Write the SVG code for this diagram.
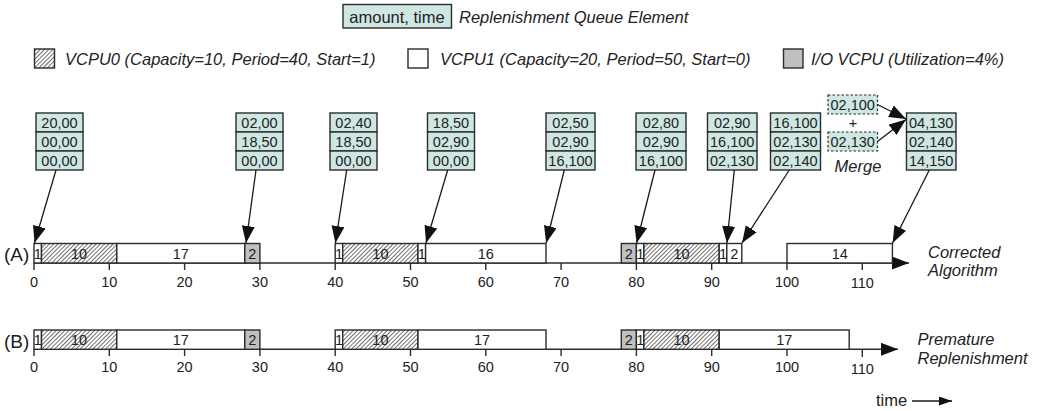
<svg xmlns="http://www.w3.org/2000/svg" width="1039" height="411" viewBox="0 0 1039 411">
  <style>
    text { font-family: "Liberation Sans", Arial, sans-serif; fill: #222; }
    .it { font-style: italic; font-size: 16.5px; }
    .leg { font-size: 16.5px; }
    .cell { fill: #cfe7e3; stroke: #2b2b2b; stroke-width: 1.4; }
    .dcell { fill: #cfe7e3; stroke: #2b2b2b; stroke-width: 1.2; stroke-dasharray: 2.5 2; }
    .ct { font-size: 14.5px; text-anchor: middle; }
    .blk { stroke: #2b2b2b; stroke-width: 1.4; }
    .w { fill: #ffffff; }
    .g { fill: #c0c0c0; }
    .h { fill: url(#hatch); }
    .bt { font-size: 14.5px; text-anchor: middle; }
    .tick { stroke: #2b2b2b; stroke-width: 1.4; }
    .tl { font-size: 14.5px; text-anchor: middle; }
    .axis { stroke: #2b2b2b; stroke-width: 1.4; fill: none; }
    .conn { stroke: #1a1a1a; stroke-width: 1.3; fill: none; }
    .lab { font-size: 19px; }
  </style>
  <defs>
    <pattern id="hatch" patternUnits="userSpaceOnUse" width="3" height="3" patternTransform="rotate(45)">
      <rect width="3" height="3" fill="#ffffff"/>
      <line x1="0" y1="0" x2="0" y2="3" stroke="#222" stroke-width="1.3"/>
    </pattern>
    <marker id="arr" markerUnits="userSpaceOnUse" markerWidth="18" markerHeight="14" refX="17" refY="6.5" orient="auto">
      <path d="M0,0 L17,6.5 L0,13 z" fill="#111"/>
    </marker>
    <marker id="arr-s" markerUnits="userSpaceOnUse" markerWidth="14" markerHeight="10" refX="13" refY="4.5" orient="auto">
      <path d="M0,0 L13,4.5 L0,9 z" fill="#111"/>
    </marker>
  </defs>

  <!-- legend -->
  <g id="legend">
    <rect class="cell" x="343" y="4.5" width="108.5" height="23.5"/>
    <text class="leg" x="397" y="22.5" text-anchor="middle">amount, time</text>
    <text class="it" x="459" y="22.5">Replenishment Queue Element</text>

    <rect class="blk h" x="34.5" y="49" width="20" height="19"/>
    <text class="it" x="65" y="65">VCPU0 (Capacity=10, Period=40, Start=1)</text>
    <rect class="blk w" x="408" y="49" width="20" height="19"/>
    <text class="it" x="440" y="65">VCPU1 (Capacity=20, Period=50, Start=0)</text>
    <rect class="blk g" x="783.5" y="49" width="19.5" height="19"/>
    <text class="it" x="811" y="65">I/O VCPU (Utilization=4%)</text>
  </g>

  <!-- replenishment queues -->
  <g id="q1">
    <rect class="cell" x="36" y="113" width="47" height="19"/><rect class="cell" x="36" y="132" width="47" height="19"/><rect class="cell" x="36" y="151" width="47" height="19"/>
    <text class="ct" x="59.5" y="128">20,00</text><text class="ct" x="59.5" y="147">00,00</text><text class="ct" x="59.5" y="166">00,00</text>
  </g>
  <g id="q2">
    <rect class="cell" x="236" y="113" width="47" height="19"/><rect class="cell" x="236" y="132" width="47" height="19"/><rect class="cell" x="236" y="151" width="47" height="19"/>
    <text class="ct" x="259.5" y="128">02,00</text><text class="ct" x="259.5" y="147">18,50</text><text class="ct" x="259.5" y="166">00,00</text>
  </g>
  <g id="q3">
    <rect class="cell" x="330" y="113" width="47" height="19"/><rect class="cell" x="330" y="132" width="47" height="19"/><rect class="cell" x="330" y="151" width="47" height="19"/>
    <text class="ct" x="353.5" y="128">02,40</text><text class="ct" x="353.5" y="147">18,50</text><text class="ct" x="353.5" y="166">00,00</text>
  </g>
  <g id="q4">
    <rect class="cell" x="427.5" y="113" width="47" height="19"/><rect class="cell" x="427.5" y="132" width="47" height="19"/><rect class="cell" x="427.5" y="151" width="47" height="19"/>
    <text class="ct" x="451" y="128">18,50</text><text class="ct" x="451" y="147">02,90</text><text class="ct" x="451" y="166">00,00</text>
  </g>
  <g id="q5">
    <rect class="cell" x="546" y="113" width="49" height="19"/><rect class="cell" x="546" y="132" width="49" height="19"/><rect class="cell" x="546" y="151" width="49" height="19"/>
    <text class="ct" x="570.5" y="128">02,50</text><text class="ct" x="570.5" y="147">02,90</text><text class="ct" x="570.5" y="166">16,100</text>
  </g>
  <g id="q6">
    <rect class="cell" x="636" y="113" width="50" height="19"/><rect class="cell" x="636" y="132" width="50" height="19"/><rect class="cell" x="636" y="151" width="50" height="19"/>
    <text class="ct" x="661" y="128">02,80</text><text class="ct" x="661" y="147">02,90</text><text class="ct" x="661" y="166">16,100</text>
  </g>
  <g id="q7">
    <rect class="cell" x="707.5" y="113" width="49.5" height="19"/><rect class="cell" x="707.5" y="132" width="49.5" height="19"/><rect class="cell" x="707.5" y="151" width="49.5" height="19"/>
    <text class="ct" x="732.2" y="128">02,90</text><text class="ct" x="732.2" y="147">16,100</text><text class="ct" x="732.2" y="166">02,130</text>
  </g>
  <g id="q8">
    <rect class="cell" x="770.5" y="113" width="50" height="19"/><rect class="cell" x="770.5" y="132" width="50" height="19"/><rect class="cell" x="770.5" y="151" width="50" height="19"/>
    <text class="ct" x="795.5" y="128">16,100</text><text class="ct" x="795.5" y="147">02,130</text><text class="ct" x="795.5" y="166">02,140</text>
  </g>
  <g id="merge">
    <rect class="dcell" x="828" y="95" width="49.5" height="19"/>
    <text class="ct" x="852.7" y="110">02,100</text>
    <text class="ct" x="853" y="128">+</text>
    <rect class="dcell" x="828" y="132" width="49.5" height="19"/>
    <text class="ct" x="852.7" y="147">02,130</text>
    <text class="it" x="858" y="172" text-anchor="middle">Merge</text>
  </g>
  <g id="q9">
    <rect class="cell" x="906.5" y="113" width="49.5" height="19"/><rect class="cell" x="906.5" y="132" width="49.5" height="19"/><rect class="cell" x="906.5" y="151" width="49.5" height="19"/>
    <text class="ct" x="931.2" y="128">04,130</text><text class="ct" x="931.2" y="147">02,140</text><text class="ct" x="931.2" y="166">14,150</text>
  </g>

  <!-- timeline A: corrected algorithm -->
  <g id="timelineA">
    <text class="lab" x="4" y="261">(A)</text>
    <path class="axis" d="M34,263 H909" marker-end="url(#arr)"/>
    <g class="tick">
      <line x1="34" y1="263" x2="34" y2="270"/><line x1="109.3" y1="263" x2="109.3" y2="270"/><line x1="184.6" y1="263" x2="184.6" y2="270"/><line x1="259.9" y1="263" x2="259.9" y2="270"/><line x1="335.2" y1="263" x2="335.2" y2="270"/><line x1="410.5" y1="263" x2="410.5" y2="270"/><line x1="485.8" y1="263" x2="485.8" y2="270"/><line x1="561.1" y1="263" x2="561.1" y2="270"/><line x1="636.4" y1="263" x2="636.4" y2="270"/><line x1="711.7" y1="263" x2="711.7" y2="270"/><line x1="787" y1="263" x2="787" y2="270"/><line x1="862.3" y1="263" x2="862.3" y2="270"/>
    </g>
    <g>
      <text class="tl" x="34" y="287">0</text><text class="tl" x="109.3" y="287">10</text><text class="tl" x="184.6" y="287">20</text><text class="tl" x="259.9" y="287">30</text><text class="tl" x="335.2" y="287">40</text><text class="tl" x="410.5" y="287">50</text><text class="tl" x="485.8" y="287">60</text><text class="tl" x="561.1" y="287">70</text><text class="tl" x="636.4" y="287">80</text><text class="tl" x="711.7" y="287">90</text><text class="tl" x="787" y="287">100</text><text class="tl" x="862.3" y="288">110</text>
    </g>
    <g id="a-blocks">
      <rect class="blk w" x="34" y="243.5" width="7.5" height="19.5"/><text class="bt" x="37.8" y="258.5">1</text>
      <rect class="blk h" x="41.5" y="243.5" width="75.3" height="19.5"/><text class="bt" x="79" y="258.5">10</text>
      <rect class="blk w" x="116.8" y="243.5" width="128" height="19.5"/><text class="bt" x="180.8" y="258.5">17</text>
      <rect class="blk g" x="244.8" y="243.5" width="15.1" height="19.5"/><text class="bt" x="252.4" y="258.5">2</text>

      <rect class="blk w" x="335.2" y="243.5" width="7.5" height="19.5"/><text class="bt" x="339" y="258.5">1</text>
      <rect class="blk h" x="342.7" y="243.5" width="75.3" height="19.5"/><text class="bt" x="380.4" y="258.5">10</text>
      <rect class="blk w" x="418" y="243.5" width="7.6" height="19.5"/><text class="bt" x="421.8" y="258.5">1</text>
      <rect class="blk w" x="425.6" y="243.5" width="120.4" height="19.5"/><text class="bt" x="485.8" y="258.5">16</text>

      <rect class="blk g" x="621.3" y="243.5" width="15.1" height="19.5"/><text class="bt" x="628.9" y="258.5">2</text>
      <rect class="blk w" x="636.4" y="243.5" width="7.5" height="19.5"/><text class="bt" x="640.2" y="258.5">1</text>
      <rect class="blk h" x="643.9" y="243.5" width="75.3" height="19.5"/><text class="bt" x="681.6" y="258.5">10</text>
      <rect class="blk w" x="719.2" y="243.5" width="7.6" height="19.5"/><text class="bt" x="723" y="258.5">1</text>
      <rect class="blk w" x="726.8" y="243.5" width="15" height="19.5"/><text class="bt" x="734.3" y="258.5">2</text>

      <rect class="blk w" x="787" y="243.5" width="105.4" height="19.5"/><text class="bt" x="839.7" y="258.5">14</text>
    </g>
    <text class="it" x="928" y="258">Corrected</text>
    <text class="it" x="928" y="276">Algorithm</text>
  </g>

  <!-- timeline B: premature replenishment -->
  <g id="timelineB">
    <text class="lab" x="4" y="348">(B)</text>
    <path class="axis" d="M34,349.3 H898" marker-end="url(#arr)"/>
    <g class="tick">
      <line x1="34" y1="349.3" x2="34" y2="356"/><line x1="109.3" y1="349.3" x2="109.3" y2="356"/><line x1="184.6" y1="349.3" x2="184.6" y2="356"/><line x1="259.9" y1="349.3" x2="259.9" y2="356"/><line x1="335.2" y1="349.3" x2="335.2" y2="356"/><line x1="410.5" y1="349.3" x2="410.5" y2="356"/><line x1="485.8" y1="349.3" x2="485.8" y2="356"/><line x1="561.1" y1="349.3" x2="561.1" y2="356"/><line x1="636.4" y1="349.3" x2="636.4" y2="356"/><line x1="711.7" y1="349.3" x2="711.7" y2="356"/><line x1="787" y1="349.3" x2="787" y2="356"/><line x1="862.3" y1="349.3" x2="862.3" y2="357"/>
    </g>
    <g>
      <text class="tl" x="34" y="372">0</text><text class="tl" x="109.3" y="372">10</text><text class="tl" x="184.6" y="372">20</text><text class="tl" x="259.9" y="372">30</text><text class="tl" x="335.2" y="372">40</text><text class="tl" x="410.5" y="372">50</text><text class="tl" x="485.8" y="372">60</text><text class="tl" x="561.1" y="372">70</text><text class="tl" x="636.4" y="372">80</text><text class="tl" x="711.7" y="372">90</text><text class="tl" x="787" y="372">100</text><text class="tl" x="862.3" y="373.5">110</text>
    </g>
    <g id="b-blocks">
      <rect class="blk w" x="34" y="330" width="7.5" height="19.3"/><text class="bt" x="37.8" y="345">1</text>
      <rect class="blk h" x="41.5" y="330" width="75.3" height="19.3"/><text class="bt" x="79" y="345">10</text>
      <rect class="blk w" x="116.8" y="330" width="128" height="19.3"/><text class="bt" x="180.8" y="345">17</text>
      <rect class="blk g" x="244.8" y="330" width="15.1" height="19.3"/><text class="bt" x="252.4" y="345">2</text>

      <rect class="blk w" x="335.2" y="330" width="7.5" height="19.3"/><text class="bt" x="339" y="345">1</text>
      <rect class="blk h" x="342.7" y="330" width="75.3" height="19.3"/><text class="bt" x="380.4" y="345">10</text>
      <rect class="blk w" x="418" y="330" width="128" height="19.3"/><text class="bt" x="482" y="345">17</text>

      <rect class="blk g" x="621.3" y="330" width="15.1" height="19.3"/><text class="bt" x="628.9" y="345">2</text>
      <rect class="blk w" x="636.4" y="330" width="7.5" height="19.3"/><text class="bt" x="640.2" y="345">1</text>
      <rect class="blk h" x="643.9" y="330" width="75.3" height="19.3"/><text class="bt" x="681.6" y="345">10</text>
      <rect class="blk w" x="719.2" y="330" width="130" height="19.3"/><text class="bt" x="784.2" y="345">17</text>
    </g>
    <text class="it" x="917.5" y="345">Premature</text>
    <text class="it" x="917.5" y="363.5">Replenishment</text>
  </g>

  <!-- time direction -->
  <g id="time-label">
    <text x="876" y="406" font-size="16.5">time</text>
    <path class="conn" d="M912,401 H952" marker-end="url(#arr-s)"/>
  </g>

  <!-- queue-to-timeline pointers -->
  <g id="connectors">
    <path class="conn" d="M56,170 L34.5,243" marker-end="url(#arr)"/>
    <path class="conn" d="M256,170 L246,243" marker-end="url(#arr)"/>
    <path class="conn" d="M346.7,170 L335.4,243" marker-end="url(#arr)"/>
    <path class="conn" d="M447.7,170 L426,243" marker-end="url(#arr)"/>
    <path class="conn" d="M564.3,170 L546.2,243" marker-end="url(#arr)"/>
    <path class="conn" d="M655,170 L636.6,243" marker-end="url(#arr)"/>
    <path class="conn" d="M734.3,170 L726.9,243" marker-end="url(#arr)"/>
    <path class="conn" d="M789.3,170 L742,243" marker-end="url(#arr)"/>
    <path class="conn" d="M929.3,170 L892.6,243" marker-end="url(#arr)"/>
    <path class="conn" d="M877.5,104.5 L906,119" marker-end="url(#arr)"/>
    <path class="conn" d="M877.5,141.5 L906,119.5" marker-end="url(#arr)"/>
  </g>
</svg>
